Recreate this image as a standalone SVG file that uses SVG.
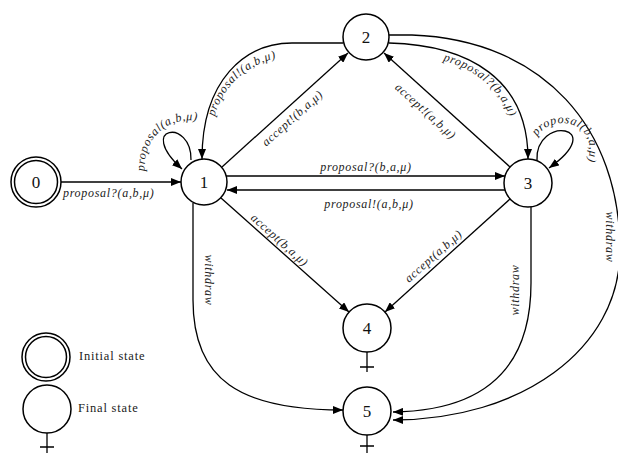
<svg xmlns="http://www.w3.org/2000/svg" width="618" height="453" viewBox="0 0 618 453">
<defs>
<marker id="arr" viewBox="0 0 10 8" refX="10" refY="4" markerWidth="10" markerHeight="8" markerUnits="userSpaceOnUse" orient="auto"><path d="M0,0 L10,4 L0,8 z" fill="#000"/></marker>
<path id="tp21" d="M 211,145 C 211,92 245,55 305,55"/>
<path id="tp23" d="M 405,55 C 468,57 516,90 517,155"/>
<path id="tp11" d="M 146,184 C 136,130 180,111 210,124"/>
<path id="tp33" d="M 533,158 C 526,105 622,112 578,182"/>
</defs>
<style>
.node circle{fill:#fff;stroke:#000;stroke-width:1.5}
.nl{font-family:"Liberation Serif",serif;font-size:17px;text-anchor:middle;fill:#111}
.edge{fill:none;stroke:#000;stroke-width:1.3;marker-end:url(#arr)}
.line{fill:none;stroke:#000;stroke-width:1.3}
.el{font-family:"Liberation Serif",serif;font-style:italic;font-size:12px;letter-spacing:0.7px;fill:#222}
.c{text-anchor:middle}
.lg{font-family:"Liberation Serif",serif;font-size:12.5px;letter-spacing:0.8px;fill:#222}
</style>
<rect width="618" height="453" fill="#fff"/>
<g id="connectors">
<path class="edge" d="M 61,182 L 181,182"/>
<path class="edge" d="M 191,160 C 192,118 135,126 182,169"/>
<path class="edge" d="M 343,43 L 292,43 C 245,43 202,80 202,159"/>
<path class="edge" d="M 222,167 L 348,53"/>
<path class="edge" d="M 389,43 C 470,45 528,80 528,159"/>
<path class="edge" d="M 510,167 L 384,53"/>
<path class="edge" d="M 537,160 C 535,115 610,125 549,168"/>
<path class="edge" d="M 226,176 L 505,176"/>
<path class="edge" d="M 505,190 L 227,190"/>
<path class="edge" d="M 221,198 L 349,312"/>
<path class="edge" d="M 510,199 L 385,312"/>
<path class="edge" d="M 193,203 L 193,300 C 193,380 240,410 343,410"/>
<path class="edge" d="M 531,207 L 531,283 C 531,380 470,411 393,412"/>
<path class="edge" d="M 389,35 L 412,35 C 545,40 620,130 620,250 C 620,350 520,420 393,420"/>
<text class="el" x="63" y="197">proposal?(a,b,μ)</text>
<text class="el"><textPath href="#tp11" startOffset="50%" text-anchor="middle">proposal(a,b,μ)</textPath></text>
<text class="el"><textPath href="#tp21" startOffset="50%" text-anchor="middle">proposal!(a,b,μ)</textPath></text>
<text class="el"><textPath href="#tp23" startOffset="50%" text-anchor="middle">proposal?(b,a,μ)</textPath></text>
<text class="el"><textPath href="#tp33" startOffset="50%" text-anchor="middle">proposal(b,a,μ)</textPath></text>
<text class="el c" transform="translate(295,121) rotate(-41.8)">accept!(b,a,μ)</text>
<text class="el c" transform="translate(423,114) rotate(42)">accept!(a,b,μ)</text>
<text class="el c" x="366" y="171">proposal?(b,a,μ)</text>
<text class="el c" x="369" y="208">proposal!(a,b,μ)</text>
<text class="el c" transform="translate(277,243) rotate(41.8)">accept(b,a,μ)</text>
<text class="el c" transform="translate(436,259) rotate(-41.6)">accept(a,b,μ)</text>
<text class="el c" transform="translate(205,280) rotate(90)">withdraw</text>
<text class="el c" transform="translate(519,290) rotate(-90)">withdraw</text>
<text class="el c" transform="translate(606,237) rotate(90)">withdraw</text>
</g>
<g id="node0" class="node">
<circle cx="36" cy="182" r="25"/>
<circle cx="36" cy="182" r="21.5"/>
<text class="nl" x="36" y="188">0</text>
</g>
<g id="node1" class="node">
<circle cx="204" cy="182" r="23"/>
<text class="nl" x="204" y="188">1</text>
</g>
<g id="node2" class="node">
<circle cx="366" cy="37" r="23"/>
<text class="nl" x="366" y="43">2</text>
</g>
<g id="node3" class="node">
<circle cx="528" cy="183" r="24"/>
<text class="nl" x="528" y="189">3</text>
</g>
<g id="node4" class="node">
<circle cx="367" cy="328" r="24"/>
<text class="nl" x="367" y="334">4</text>
<path class="line" d="M 367,352 V 372 M 360,367 H 374"/>
</g>
<g id="node5" class="node">
<circle cx="367" cy="411" r="24"/>
<text class="nl" x="367" y="417">5</text>
<path class="line" d="M 367,435 V 453 M 360,446 H 374"/>
</g>
<g id="legend-initial" class="node">
<circle cx="46" cy="357" r="24"/>
<circle cx="46" cy="357" r="20.5"/>
<text class="lg" x="79" y="360">Initial state</text>
</g>
<g id="legend-final" class="node">
<circle cx="47" cy="409" r="24"/>
<path class="line" d="M 47,433 V 453 M 40,447 H 54"/>
<text class="lg" x="78" y="412">Final state</text>
</g>
</svg>
